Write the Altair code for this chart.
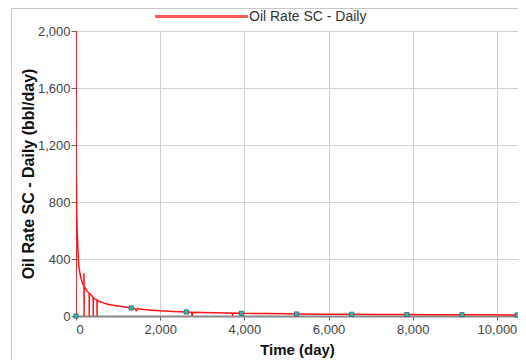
import altair as alt
import pandas as pd

# Oil rate decline series (day, bbl/day)
days = [0, 1, 3, 8, 15, 25, 35, 45, 55, 72, 94, 120, 150, 175, 188, 190, 192, 195,
        220, 250, 285, 313, 315, 317, 350, 380, 408, 410, 412, 450, 498, 500, 502,
        560, 650, 750, 880, 1000, 1150, 1313, 1400, 1430, 1460, 1600, 1800, 2000,
        2300, 2620, 2740, 2760, 2780, 3000, 3300, 3600, 3700, 3720, 3740, 3930,
        4500, 5000, 5240, 5800, 6550, 7200, 7860, 8500, 9170, 9800, 10500]
rates = [0, 2000, 650, 977, 760, 620, 540, 470, 400, 340, 300, 262, 236, 218, 210, 300, 0, 208,
         195, 180, 168, 160, 0, 158, 150, 140, 130, 0, 128, 120, 112, 0, 110,
         102, 92, 83, 76, 70, 63, 56, 52, 38, 50, 46, 41, 37,
         32, 28, 27, 5, 27, 25, 23, 21, 21, 8, 21, 19,
         17, 15, 14, 13, 12, 11, 10, 9, 9, 8, 7]

# Cyan sample markers on the curve
marker_days = [0, 1310, 2620, 3930, 5240, 6550, 7860, 9170, 10480]
marker_rates = [0, 56, 28, 19, 14, 12, 10, 9, 7]

x_ticks = [0, 2000, 4000, 6000, 8000, 10000]
y_ticks = [0, 400, 800, 1200, 1600, 2000]

series_name = "Oil Rate SC - Daily"
x_title = "Time (day)"
y_title = "Oil Rate SC - Daily (bbl/day)"

df = pd.DataFrame({"day": days, "rate": rates})
dm = pd.DataFrame({"day": marker_days, "rate": marker_rates})

FONT = "Liberation Sans"

xs = alt.Scale(domain=[0, 10500], nice=False, zero=False)
ys = alt.Scale(domain=[0, 2000], nice=False)

x_axis = alt.Axis(values=x_ticks, format=",d", title=x_title, grid=True,
                  gridColor="#d0d0d0", domainColor="#888888", domainWidth=2,
                  tickColor="#666666", tickSize=4, labelPadding=3,
                  labelFont=FONT, labelFontSize=13, labelColor="#444444",
                  titleFont=FONT, titleFontSize=15, titleFontWeight="bold",
                  titleColor="#111111", titleY=33, titleBaseline="middle")
y_axis = alt.Axis(values=y_ticks, format=",d", title=y_title, grid=True,
                  gridColor="#d0d0d0", domainColor="#888888",
                  tickColor="#666666", tickSize=5, labelPadding=1,
                  labelFont=FONT, labelFontSize=13, labelColor="#444444",
                  titleFont=FONT, titleFontSize=16, titleFontWeight="bold",
                  titleColor="#111111", titleX=-48, titleBaseline="middle")

line = alt.Chart(df).mark_line(color="#ff1414", strokeWidth=1.5, clip=True).encode(
    x=alt.X("day:Q", scale=xs, axis=x_axis),
    y=alt.Y("rate:Q", scale=ys, axis=y_axis),
    order="idx:O",
).transform_window(idx="row_number()")

pts = alt.Chart(dm).mark_point(shape="square", filled=True, size=18,
                               color="#35b8b8", stroke="#2b4f55",
                               strokeWidth=0.7, opacity=1).encode(
    x=alt.X("day:Q", scale=xs),
    y=alt.Y("rate:Q", scale=ys),
)

legend_df = pd.DataFrame({"label": [series_name]})
leg_line = alt.Chart(legend_df).mark_rule(color="#ff5a5a", strokeWidth=3).encode(
    x=alt.value(79), x2=alt.value(172), y=alt.value(-14.5))
leg_text = alt.Chart(legend_df).mark_text(align="left", baseline="middle",
                                          font=FONT, fontSize=14,
                                          color="#333333").encode(
    x=alt.value(173), y=alt.value(-14), text="label:N")

border_left = alt.Chart(legend_df).mark_rule(color="#c8c8c8", strokeWidth=1).encode(
    x=alt.value(-64.5), y=alt.value(-23), y2=alt.value(340))
border_top = alt.Chart(legend_df).mark_rule(color="#c8c8c8", strokeWidth=1).encode(
    x=alt.value(-64.5), x2=alt.value(460), y=alt.value(-22.5))

chart = alt.layer(border_left, border_top, line, pts, leg_line, leg_text).properties(
    width=442, height=285,
    autosize=alt.AutoSizeParams(type="none"),
    padding={"left": 68, "top": 23, "right": 0, "bottom": 44},
).configure_view(stroke="#8c8c8c", strokeWidth=2).configure(background="white")

chart.save("out.html", embed_options={"renderer": "svg", "actions": False})
